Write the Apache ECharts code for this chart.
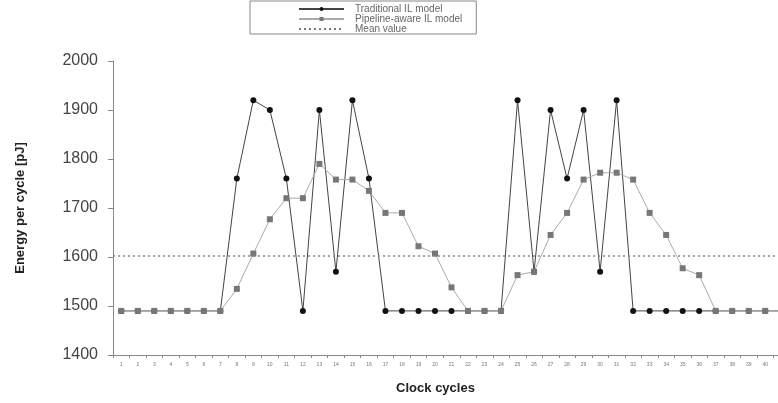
<!DOCTYPE html>
<html>
<head>
<meta charset="utf-8">
<script src="https://cdn.jsdelivr.net/npm/echarts@6/dist/echarts.min.js"></script>
<style>
html,body{margin:0;padding:0;background:#fff;}
#chart{width:778px;height:403px;}
</style>
</head>
<body>
<div id="chart"></div>
<script>
var cycles = ['1','2','3','4','5','6','7','8','9','10','11','12','13','14','15','16','17','18','19','20','21','22','23','24','25','26','27','28','29','30','31','32','33','34','35','36','37','38','39','40','41'];
var traditional = [1490,1490,1490,1490,1490,1490,1490,1760,1920,1900,1760,1490,1900,1570,1920,1760,1490,1490,1490,1490,1490,1490,1490,1490,1920,1570,1900,1760,1900,1570,1920,1490,1490,1490,1490,1490,1490,1490,1490,1490,1490];
var pipeline = [1490,1490,1490,1490,1490,1490,1490,1535,1607,1677,1720,1720,1790,1758,1758,1735,1690,1690,1622,1607,1538,1490,1490,1490,1563,1570,1645,1690,1758,1772,1772,1758,1690,1645,1577,1563,1490,1490,1490,1490,1490];
var meanValue = 1603;
var yTicks = [1400,1500,1600,1700,1800,1900,2000];

var chart = echarts.init(document.getElementById('chart'));
var font = '"Liberation Sans", Arial, sans-serif';
chart.setOption({
  animation: false,
  backgroundColor: '#fff',
  textStyle: {fontFamily: font},
  legend: {
    orient: 'vertical',
    left: 250,
    top: 1,
    padding: [3, 14, 0, 48],
    itemGap: 0,
    itemWidth: 45,
    itemHeight: 5,
    borderColor: '#888',
    borderWidth: 1,
    textStyle: {fontSize: 10, lineHeight: 9, color: '#666', fontFamily: font, padding: [0,0,0,6]},
    data: [
      'Traditional IL model',
      'Pipeline-aware IL model',
      {name: 'Mean value', itemStyle: {color: 'rgba(0,0,0,0)', borderWidth: 0}}
    ]
  },
  grid: {left: 113, top: 61, right: -12, bottom: 48, outerBoundsMode: 'none'},
  xAxis: {
    type: 'category',
    data: cycles,
    boundaryGap: true,
    name: 'Clock cycles',
    nameLocation: 'middle',
    nameGap: 27,
    nameTextStyle: {fontSize: 13, fontWeight: 'bold', color: '#222', fontFamily: font, padding: [0, 32, 0, 0]},
    axisLine: {lineStyle: {color: '#888', width: 1}},
    axisTick: {show: true, length: 3, lineStyle: {color: '#888'}},
    axisLabel: {fontSize: 5, color: '#777', interval: 0, margin: 7},
    splitLine: {show: false}
  },
  yAxis: {
    type: 'value',
    min: yTicks[0],
    max: yTicks[yTicks.length - 1],
    interval: 100,
    name: 'Energy per cycle [pJ]',
    nameLocation: 'middle',
    nameGap: 86,
    nameTextStyle: {fontSize: 13, fontWeight: 'bold', color: '#222', fontFamily: font},
    axisLine: {show: true, lineStyle: {color: '#888', width: 1}},
    axisTick: {show: true, length: 5, inside: false, lineStyle: {color: '#888'}},
    axisLabel: {fontSize: 16, color: '#444', margin: 15, formatter: function (v) { return String(v); }},
    splitLine: {show: false}
  },
  series: [
    {
      name: 'Traditional IL model',
      type: 'line',
      data: traditional,
      symbol: 'circle',
      symbolSize: 6,
      itemStyle: {color: '#111'},
      lineStyle: {color: '#444', width: 1},
      z: 3
    },
    {
      name: 'Pipeline-aware IL model',
      type: 'line',
      data: pipeline,
      symbol: 'rect',
      symbolSize: 6,
      itemStyle: {color: '#777'},
      lineStyle: {color: '#aaa', width: 1},
      z: 4
    },
    {
      name: 'Mean value',
      type: 'line',
      data: [],
      symbol: 'none',
      itemStyle: {color: '#777'},
      lineStyle: {color: '#777', width: 1.5, type: [2, 3]},
      markLine: {
        silent: true,
        symbol: 'none',
        label: {show: false},
        lineStyle: {color: '#888', width: 1.5, type: [2, 3]},
        data: [{yAxis: meanValue}]
      },
      z: 2
    }
  ]
});
</script>
</body>
</html>
